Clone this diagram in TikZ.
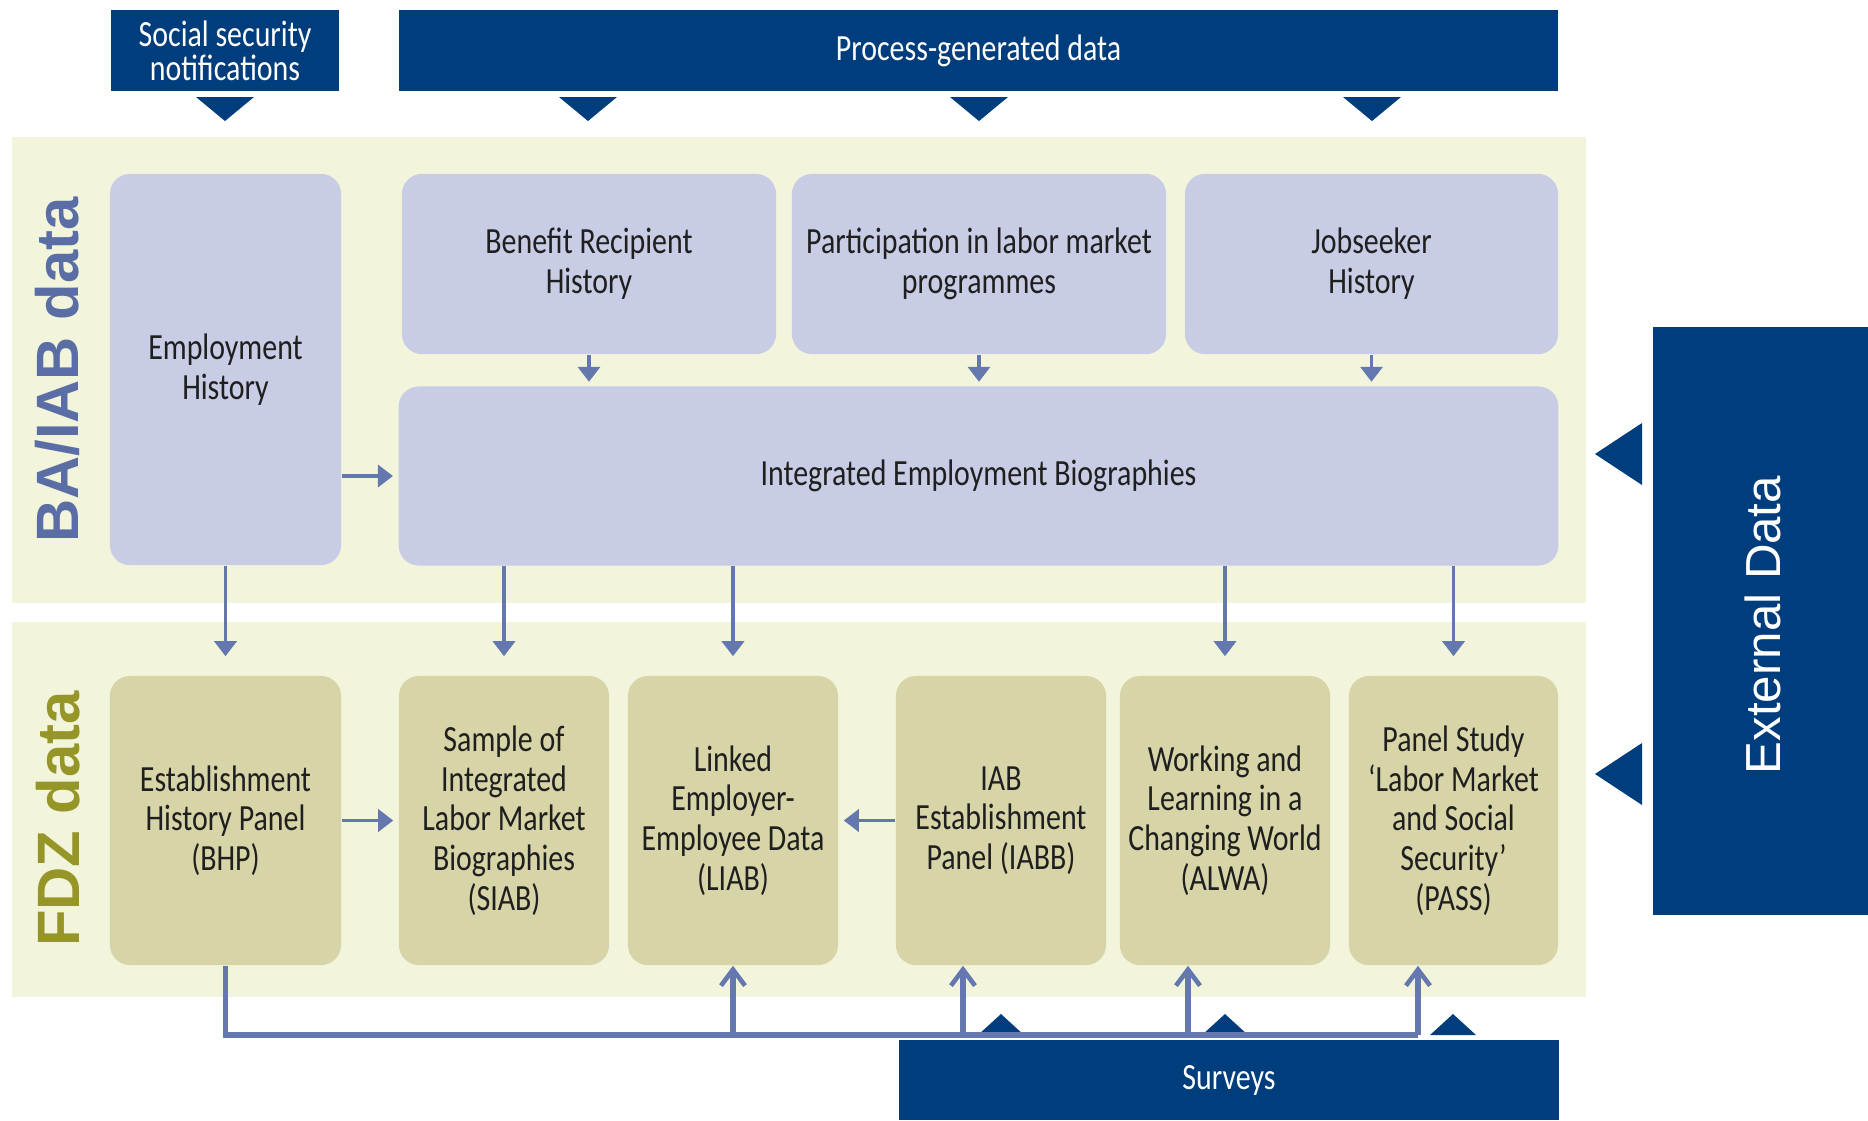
\documentclass[tikz,border=0pt]{standalone}
\usepackage{fontspec}
\setmainfont{Carlito}[FakeStretch=0.81]
\newfontfamily\labelfont{Liberation Sans}
\usetikzlibrary{calc,positioning,arrows.meta}

\definecolor{iabblue}{RGB}{0,61,124}
\definecolor{bandfill}{RGB}{242,245,219}
\definecolor{bafill}{RGB}{200,204,228}
\definecolor{fdzfill}{RGB}{215,213,168}
\definecolor{arrcol}{RGB}{100,120,175}
\definecolor{bacol}{RGB}{90,110,165}
\definecolor{fdzcol}{RGB}{150,150,40}

\tikzset{
  box/.style={rounded corners=0.2cm, inner sep=0pt, align=center,
    font=\fontsize{10.5}{11.3}\selectfont, text=black!88},
  babox/.style={box, fill=bafill},
  fdzbox/.style={box, fill=fdzfill},
  headbox/.style={fill=iabblue, text=white, inner sep=0pt, align=center,
    font=\fontsize{10.5}{9.6}\selectfont},
  arr/.style={draw=arrcol, line width=1pt, -{Triangle[width=0.22cm,length=0.15cm]}},
  uparr/.style={draw=arrcol, line width=1.5pt,
    -{Straight Barb[width=0.24cm,length=0.16cm,line width=1.3pt]}},
  bus/.style={draw=arrcol, line width=1.5pt},
  bandlabel/.style={rotate=90, font=\labelfont\bfseries\fontsize{17}{17}\selectfont}
}

\begin{document}
\begin{tikzpicture}[x=0.01cm,y=-0.01cm]
\useasboundingbox (0,0) rectangle (1868,1120);

% bands
\fill[bandfill] (12,137) rectangle (1586,603);
\fill[bandfill] (12,622) rectangle (1586,997);
\node[bandlabel, text=bacol] (balabel) at (57,370) {BA/IAB data};
\node[bandlabel, text=fdzcol] (fdzlabel) at (58,819) {FDZ data};

% sources
\node[headbox, minimum width=2.28cm, minimum height=0.81cm] (social) at (225,50.5) {Social security\\notifications};
\node[headbox, minimum width=11.59cm, minimum height=0.81cm] (process) at (978.5,50.5) {Process-generated data};
\node[headbox, minimum width=6.60cm, minimum height=0.80cm] (surveys) at (1229,1080) {Surveys};
\node[headbox, minimum width=2.15cm, minimum height=5.88cm] (external) at (1760.5,621) {};
\node[rotate=90, text=white, font=\labelfont\fontsize{14}{14}\selectfont] (extlabel) at (1763,625) {External Data};

\foreach \x in {225,588,979,1372}
  \fill[iabblue] (\x-29,97) -- (\x+29,97) -- (\x,121) -- cycle;
\foreach \x in {1001,1225,1453}
  \fill[iabblue] (\x-23,1035) -- (\x+23,1035) -- (\x,1014) -- cycle;
\foreach \y in {454,774}
  \fill[iabblue] (1642,\y-31) -- (1642,\y+31) -- (1595,\y) -- cycle;

% BA/IAB data
\node[babox, minimum width=2.31cm, minimum height=3.91cm] (emp) at (225.5,369.5) {Employment\\History};
\node[babox, minimum width=3.74cm, minimum height=1.80cm] (benefit) at (589,264) {Benefit Recipient\\History};
\node[babox, minimum width=3.74cm, minimum height=1.80cm] (partic) at (979,264) {Participation in labor market\\programmes};
\node[babox, minimum width=3.73cm, minimum height=1.80cm] (jobseek) at (1371.5,264) {Jobseeker\\History};
\node[babox, minimum width=11.59cm, minimum height=1.79cm] (ieb) at (978.5,476) {Integrated Employment Biographies};

% FDZ data
\node[fdzbox, minimum width=2.31cm, minimum height=2.89cm] (bhp) at (225.5,820.5) {Establishment\\History Panel\\(BHP)};
\node[fdzbox, minimum width=2.10cm, minimum height=2.89cm] (siab) at (504,820.5) {Sample of\\Integrated\\Labor Market\\Biographies\\(SIAB)};
\node[fdzbox, minimum width=2.10cm, minimum height=2.89cm] (liab) at (733,820.5) {Linked\\Employer-\\Employee Data\\(LIAB)};
\node[fdzbox, minimum width=2.10cm, minimum height=2.89cm] (iabb) at (1001,820.5) {IAB\\Establishment\\Panel (IABB)};
\node[fdzbox, minimum width=2.10cm, minimum height=2.89cm] (alwa) at (1225,820.5) {Working and\\Learning in a\\Changing World\\(ALWA)};
\node[fdzbox, minimum width=2.09cm, minimum height=2.89cm] (pass) at (1453.5,820.5) {Panel Study\\`Labor Market\\and Social\\Security'\\(PASS)};

% arrows
\foreach \n in {benefit,partic,jobseek}
  \draw[arr, shorten >=0.04cm] (\n.south) -- (\n.south |- ieb.north);
\draw[arr, shorten >=0.05cm] (emp.east |- ieb.west) -- (ieb.west);
\draw[arr, shorten >=0.19cm] (emp.south) -- (bhp.north);
\foreach \n in {siab,liab,alwa,pass}
  \draw[arr, shorten >=0.19cm] (ieb.south -| \n.north) -- (\n.north);
\draw[arr, shorten >=0.05cm] (bhp.east) -- (siab.west);
\draw[arr, shorten >=0.05cm] (iabb.west) -- (liab.east);

\coordinate (f1) at (963,1035);
\coordinate (f2) at (1188,1035);
\coordinate (f3) at (1418,1035);
\draw[bus] (bhp.south) |- (f3);
\draw[uparr] (liab.south |- f1) -- (liab.south);
\draw[uparr] (f1) -- (f1 |- iabb.south);
\draw[uparr] (f2) -- (f2 |- alwa.south);
\draw[uparr] (f3) -- (f3 |- pass.south);
\end{tikzpicture}
\end{document}
